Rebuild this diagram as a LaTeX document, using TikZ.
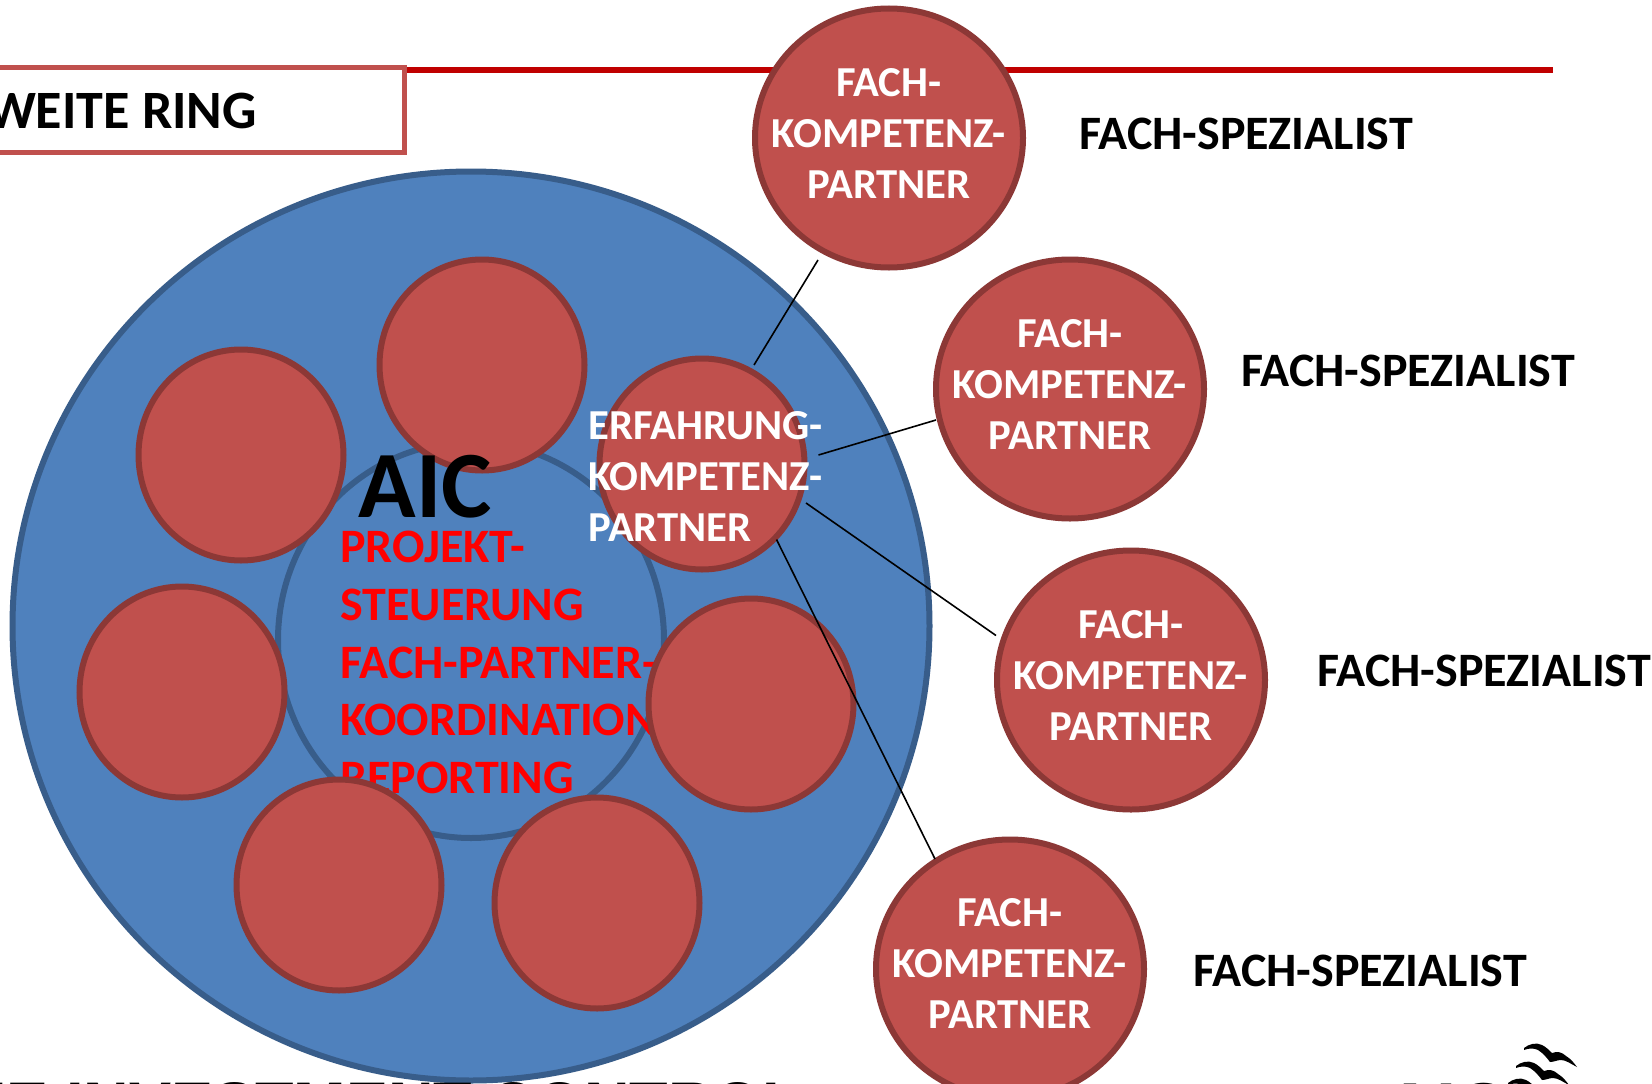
\documentclass[tikz,border=0pt]{standalone}
\usepackage{fontspec}
\setmainfont{Carlito}
\newfontfamily\arialfont{Liberation Sans}
\usetikzlibrary{shapes.geometric}
\definecolor{ringblue}{HTML}{4F81BD}
\definecolor{ringedge}{HTML}{385D8A}
\definecolor{partnerred}{HTML}{C0504D}
\definecolor{partneredge}{HTML}{8C3836}
\definecolor{headline}{HTML}{C00000}
\tikzset{
  bluering/.style={ellipse,draw=ringedge,fill=ringblue,line width=6pt,inner sep=0pt},
  smallpartner/.style={ellipse,draw=partneredge,fill=partnerred,line width=6pt,inner sep=0pt,minimum width=205pt,minimum height=211pt},
  fachpartner/.style={ellipse,draw=partneredge,fill=partnerred,line width=6pt,inner sep=0pt,minimum width=268pt,minimum height=259pt},
  partnertext/.style={text=white,align=center,inner sep=0pt,font=\bfseries\fontsize{42.7}{51}\selectfont},
  speziallabel/.style={text=black,anchor=west,inner sep=0pt,font=\bfseries\fontsize{48}{50}\selectfont},
  link/.style={draw=black,line width=1.6pt},
}
\begin{document}
\begin{tikzpicture}[x=1pt,y=-1pt]
\useasboundingbox (0,0) rectangle (1652,1084);
\clip (0,0) rectangle (1652,1084);
\fill[white] (0,0) rectangle (1652,1084);
% header
\node[draw=partnerred,fill=white,line width=5pt,inner sep=0pt,minimum width=424pt,minimum height=85pt] (ringbox) at (192.5,110) {};
\node[anchor=base east,inner sep=0pt,font=\bfseries\fontsize{54}{60}\selectfont] (ringtext) at (257,128) {WEITE RING};
\coordinate (lineend) at (1553,69.5);
\draw[headline,line width=6pt] (ringbox.east |- lineend) -- (lineend);
% rings
\node[bluering,minimum width=917pt,minimum height=909pt] (outerring) at (471,626) {};
\node[bluering,minimum width=386pt,minimum height=396pt] (innerring) at (471,640) {};
\node[smallpartner] (leftupper) at (241,455) {};
\node[smallpartner] (topcircle) at (482,365) {};
\node[anchor=base east,inner sep=0pt,font=\bfseries\fontsize{95}{100}\selectfont] (aic) at (492,517) {AIC};
\node[anchor=west,inner sep=0pt,text=red,align=left,font=\bfseries\fontsize{48}{57.75}\selectfont] (tasks) at (340,662.5) {PROJEKT-\\STEUERUNG\\FACH-PARTNER-\\KOORDINATION\\REPORTING};
\node[smallpartner] (leftcircle) at (182,692) {};
\node[smallpartner] (bottomleft) at (339,885) {};
\node[smallpartner] (bottomright) at (597,903) {};
\node[smallpartner] (rightcircle) at (751,704) {};
\node[smallpartner] (erf) at (702,464) {};
\node[partnertext,align=left,anchor=west] (erftext) at (588,476.5) {ERFAHRUNG-\\KOMPETENZ-\\PARTNER};
% specialists
\node[fachpartner] (fach1) at (889,138) {};
\node[fachpartner] (fach2) at (1070,389) {};
\node[fachpartner] (fach3) at (1131,680) {};
\node[fachpartner] (fach4) at (1010,969) {};
\node[partnertext] (fach1text) at ([shift={(0,-4.5)}]fach1.center) {FACH-\\KOMPETENZ-\\PARTNER};
\node[partnertext] (fach2text) at ([shift={(0,-4.5)}]fach2.center) {FACH-\\KOMPETENZ-\\PARTNER};
\node[partnertext] (fach3text) at ([shift={(0,-5)}]fach3.center) {FACH-\\KOMPETENZ-\\PARTNER};
\node[partnertext] (fach4text) at ([shift={(0,-6)}]fach4.center) {FACH-\\KOMPETENZ-\\PARTNER};
\node[speziallabel] (spez1) at (1079,134) {FACH-SPEZIALIST};
\node[speziallabel] (spez2) at (1241,371) {FACH-SPEZIALIST};
\node[speziallabel] (spez3) at (1317,671) {FACH-SPEZIALIST};
\node[speziallabel] (spez4) at (1193,971) {FACH-SPEZIALIST};
% connectors
\draw[link] ([shift={(52,-99)}]erf.center) -- ([shift={(-71,122)}]fach1.center);
\draw[link] ([shift={(116.5,-9)}]erf.center) -- ([shift={(-134,31)}]fach2.center);
\draw[link] ([shift={(104,39)}]erf.center) -- ([shift={(-135,-44.5)}]fach3.center);
\draw[link] ([shift={(74.5,75.5)}]erf.center) -- ([shift={(-75,-110)}]fach4.center);
% cropped bottom line and logo
\node[anchor=base east,inner sep=0pt,font=\arialfont\bfseries\fontsize{63}{70}\selectfont] (bottomtext) at (801.5,1126) {IE INVESTMENT CONTROL};
\node[anchor=base west,inner sep=0pt,font=\arialfont\bfseries\fontsize{72}{80}\selectfont] (logotext) at (1384,1133) {AIC};
\foreach \dx/\dy in {0/0,-8/18,-16/35}{
  \fill[black,shift={(1524+\dx,1048+\dy)}] (0,0) .. controls (5,-4) and (12,-6) .. (18,-3)
    .. controls (22,-1) and (25,2) .. (28,5)
    .. controls (33,3) and (38,4) .. (42,8)
    .. controls (47,11) and (50,15) .. (53,19)
    .. controls (47,16) and (42,12) .. (37,12)
    .. controls (33,12) and (30,14) .. (26,14)
    .. controls (23,10) and (19,5) .. (14,2)
    .. controls (10,0) and (5,0) .. (0,2) -- cycle;
}
\end{tikzpicture}
\end{document}
